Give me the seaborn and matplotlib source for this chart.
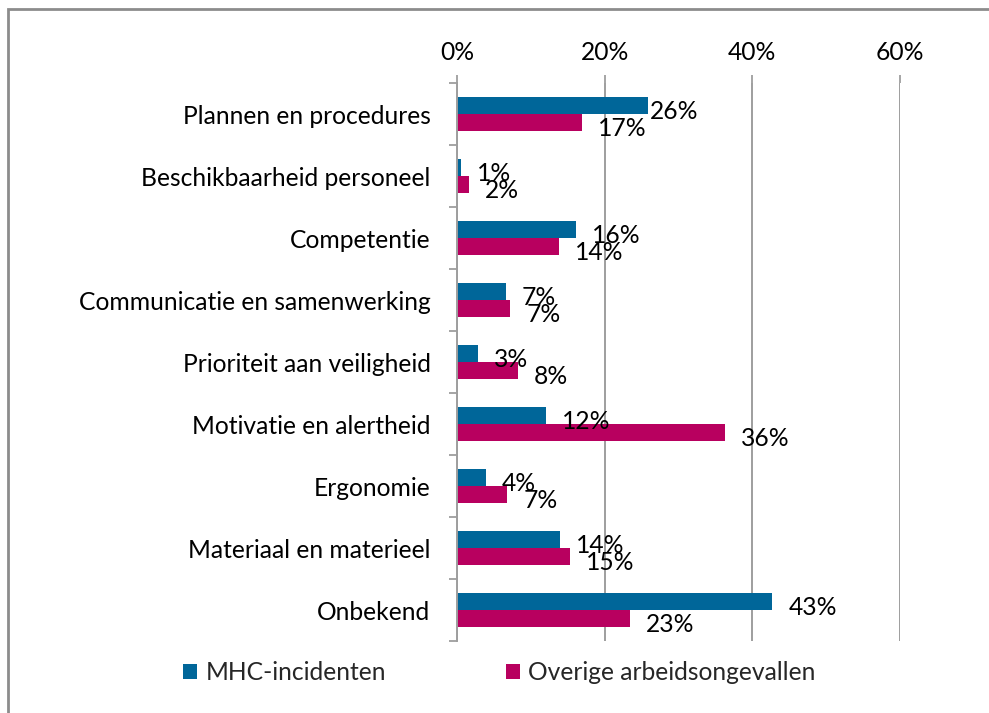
import matplotlib
matplotlib.use("Agg")
import matplotlib.pyplot as plt
from matplotlib.patches import Rectangle
from matplotlib.ticker import FixedLocator, FuncFormatter
import pandas as pd
import seaborn as sns

categories = [
    "Plannen en procedures",
    "Beschikbaarheid personeel",
    "Competentie",
    "Communicatie en samenwerking",
    "Prioriteit aan veiligheid",
    "Motivatie en alertheid",
    "Ergonomie",
    "Materiaal en materieel",
    "Onbekend",
]
series_names = ["MHC-incidenten", "Overige arbeidsongevallen"]
mhc = [25.9, 0.6, 16.1, 6.6, 2.9, 12.1, 3.9, 14.0, 42.7]
overig = [16.9, 1.6, 13.8, 7.2, 8.2, 36.3, 6.8, 15.3, 23.4]
x_ticks = [0, 20, 40, 60]

colors = ["#006699", "#B8005F"]
grid_col = "#9E9E9E"

sns.set_theme(style="white")
plt.rcParams["font.family"] = ["Lato", "DejaVu Sans"]
FS = 17.7

df = pd.DataFrame({
    "categorie": categories * 2,
    "reeks": [series_names[0]] * len(categories) + [series_names[1]] * len(categories),
    "waarde": mhc + overig,
})

fig = plt.figure(figsize=(9.89, 7.13), dpi=100)
ax = fig.add_axes([457 / 989, 1 - 641 / 713, (900 - 457) / 989, (641 - 83) / 713])

sns.barplot(
    data=df, y="categorie", x="waarde", hue="reeks",
    order=categories, hue_order=series_names, palette=colors,
    orient="h", width=0.56, saturation=1, linewidth=0, ax=ax,
)

ax.set_xlim(0, 60)
ax.set_ylim(len(categories) - 0.5, -0.5)
ax.set_xlabel("")
ax.set_ylabel("")

# value axis on top with vertical gridlines
ax.xaxis.tick_top()
ax.set_xticks(x_ticks)
ax.xaxis.set_major_formatter(FuncFormatter(lambda v, p: f"{v:.0f}%"))
ax.tick_params(axis="x", which="major", length=6, width=1.3, color=grid_col,
               direction="out", pad=8, labelsize=FS, labelcolor="black")
ax.grid(axis="x", color=grid_col, linewidth=1.4)
ax.set_axisbelow(True)

# category axis: labels at centres, ticks at boundaries
ax.yaxis.set_minor_locator(FixedLocator([i - 0.5 for i in range(len(categories) + 1)]))
ax.tick_params(axis="y", which="major", length=0, pad=19, labelsize=FS, labelcolor="black")
ax.tick_params(axis="y", which="minor", length=6, width=1.3, color=grid_col, direction="out")
ax.tick_params(axis="y", which="minor", left=True)

for side in ["top", "right", "bottom"]:
    ax.spines[side].set_visible(False)
ax.spines["left"].set_color(grid_col)
ax.spines["left"].set_linewidth(1.4)

# data labels to the right of each bar
for container in ax.containers:
    for bar in container:
        w = bar.get_width()
        yc = bar.get_y() + bar.get_height() / 2
        dx = 1.5 if abs(w - 25.9) < 1e-6 else 11.5
        ax.annotate(f"{w:.0f}%", xy=(w, yc), xytext=(dx, -4.5),
                    textcoords="offset points", ha="left", va="center",
                    fontsize=FS, color="black")

leg = ax.legend(
    loc="center", bbox_to_anchor=(0.505, 1 - 673 / 713), bbox_transform=fig.transFigure,
    ncol=2, frameon=False, fontsize=FS, handlelength=0.55, handleheight=0.55,
    handletextpad=0.35, columnspacing=4.9,
)

# chart frame
fig.patches.append(Rectangle((8 / 989, -0.1), 1.2, 1 - 9 / 713 + 0.1,
                             transform=fig.transFigure, fill=False,
                             edgecolor="#8C8C8C", linewidth=2))

fig.savefig("out.png", dpi=100, facecolor="white")
